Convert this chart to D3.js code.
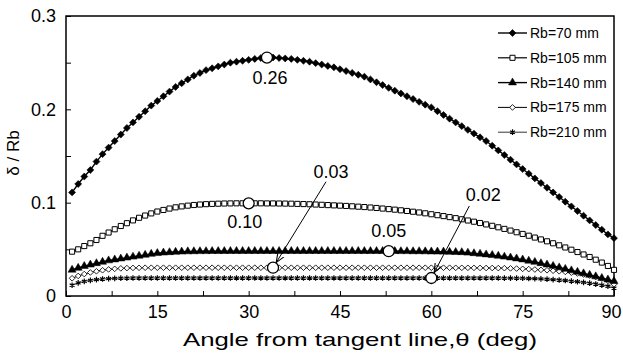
<!DOCTYPE html>
<html>
<head>
<meta charset="utf-8">
<script src="https://cdn.jsdelivr.net/npm/d3@7"></script>
<style>
  body { margin: 0; background: #fff; }
  text { font-family: "Liberation Sans", Arial, sans-serif; fill: #000; }
</style>
</head>
<body>
<div id="chart"></div>
<script>
// angle from tangent line (deg)
const theta = [1,2,3,4,5,6,7,8,9,10,11,12,13,14,15,16,17,18,19,20,21,22,23,24,25,26,27,28,29,30,
  31,32,33,34,35,36,37,38,39,40,41,42,43,44,45,46,47,48,49,50,51,52,53,54,55,56,57,58,59,60,
  61,62,63,64,65,66,67,68,69,70,71,72,73,74,75,76,77,78,79,80,81,82,83,84,85,86,87,88,89,90];

const rb70 = [0.111,0.120,0.128,0.135,0.144,0.152,0.159,0.166,0.173,0.180,
  0.186,0.192,0.198,0.204,0.209,0.214,0.219,0.224,0.228,0.232,
  0.236,0.239,0.242,0.244,0.246,0.248,0.250,0.251,0.252,0.253,
  0.254,0.255,0.2555,0.2555,0.255,0.2545,0.254,0.253,0.252,0.251,
  0.2495,0.248,0.2465,0.245,0.243,0.241,0.239,0.237,0.235,0.232,
  0.229,0.226,0.223,0.220,0.217,0.214,0.211,0.208,0.205,0.202,
  0.198,0.194,0.190,0.186,0.182,0.178,0.174,0.170,0.166,0.161,
  0.156,0.151,0.146,0.141,0.136,0.131,0.126,0.121,0.116,0.111,
  0.106,0.101,0.096,0.091,0.086,0.081,0.076,0.071,0.066,0.062];

const rb105 = [0.0475,0.0500,0.0535,0.0565,0.0600,0.0645,0.0680,0.0715,0.0750,0.0780,
  0.0810,0.0838,0.0862,0.0885,0.0905,0.0922,0.0937,0.0950,0.0960,0.0968,
  0.0975,0.0980,0.0984,0.0987,0.0989,0.0991,0.0992,0.0993,0.0993,0.0993,
  0.0993,0.0993,0.0992,0.0992,0.0991,0.0990,0.0989,0.0987,0.0985,0.0983,
  0.0980,0.0977,0.0974,0.0971,0.0968,0.0965,0.0961,0.0957,0.0953,0.0948,
  0.0943,0.0937,0.0931,0.0925,0.0918,0.0911,0.0903,0.0895,0.0886,0.0876,
  0.0866,0.0856,0.0845,0.0834,0.0822,0.0809,0.0796,0.0782,0.0767,0.0752,
  0.0736,0.0719,0.0701,0.0683,0.0665,0.0646,0.0626,0.0606,0.0586,0.0565,
  0.0543,0.0520,0.0496,0.0471,0.0445,0.0418,0.0389,0.0358,0.0322,0.0280];

const rb140 = [0.0280,0.0300,0.0320,0.0335,0.0350,0.0365,0.0380,0.0390,0.0400,0.0410,
  0.0420,0.0430,0.0440,0.0450,0.0458,0.0464,0.0468,0.0472,0.0475,0.0477,
  0.0478,0.0479,0.0479,0.0480,0.0480,0.0480,0.0481,0.0481,0.0481,0.0481,
  0.0481,0.0481,0.0481,0.0481,0.0481,0.0481,0.0481,0.0481,0.0481,0.0481,
  0.0481,0.0481,0.0481,0.0481,0.0481,0.0481,0.0481,0.0481,0.0480,0.0480,
  0.0480,0.0480,0.0480,0.0480,0.0479,0.0479,0.0478,0.0478,0.0477,0.0476,
  0.0475,0.0474,0.0472,0.0470,0.0468,0.0463,0.0457,0.0451,0.0444,0.0437,
  0.0429,0.0420,0.0411,0.0401,0.0390,0.0377,0.0364,0.0350,0.0336,0.0321,
  0.0305,0.0289,0.0273,0.0257,0.0241,0.0225,0.0209,0.0192,0.0175,0.0158];

const rb175 = [0.0190,0.0215,0.0235,0.0252,0.0265,0.0276,0.0285,0.0291,0.0296,0.0299,
  0.0301,0.0302,0.0303,0.0303,0.0303,0.0303,0.0303,0.0303,0.0303,0.0303,
  0.0303,0.0303,0.0303,0.0303,0.0303,0.0303,0.0303,0.0303,0.0303,0.0303,
  0.0303,0.0303,0.0303,0.0303,0.0303,0.0303,0.0303,0.0303,0.0303,0.0303,
  0.0303,0.0303,0.0303,0.0303,0.0303,0.0303,0.0303,0.0303,0.0303,0.0303,
  0.0303,0.0303,0.0303,0.0303,0.0303,0.0303,0.0303,0.0303,0.0303,0.0303,
  0.0303,0.0303,0.0303,0.0302,0.0302,0.0302,0.0301,0.0301,0.0300,0.0300,
  0.0299,0.0298,0.0296,0.0294,0.0291,0.0288,0.0284,0.0280,0.0276,0.0271,
  0.0265,0.0258,0.0250,0.0241,0.0230,0.0218,0.0203,0.0186,0.0163,0.0125];

const rb210 = [0.0115,0.0140,0.0157,0.0168,0.0176,0.0182,0.0186,0.0189,0.0191,0.0192,
  0.0193,0.0193,0.0193,0.0193,0.0193,0.0193,0.0193,0.0193,0.0193,0.0193,
  0.0193,0.0193,0.0193,0.0193,0.0193,0.0193,0.0193,0.0193,0.0193,0.0193,
  0.0193,0.0193,0.0193,0.0193,0.0193,0.0193,0.0193,0.0193,0.0193,0.0193,
  0.0193,0.0193,0.0193,0.0193,0.0193,0.0193,0.0193,0.0193,0.0193,0.0193,
  0.0193,0.0193,0.0193,0.0193,0.0193,0.0193,0.0193,0.0193,0.0193,0.0193,
  0.0193,0.0193,0.0193,0.0193,0.0193,0.0193,0.0193,0.0193,0.0193,0.0193,
  0.0193,0.0192,0.0192,0.0191,0.0190,0.0188,0.0186,0.0183,0.0180,0.0176,
  0.0171,0.0166,0.0160,0.0153,0.0146,0.0138,0.0128,0.0117,0.0104,0.0085];

const seriesNames = ['Rb=70 mm', 'Rb=105 mm', 'Rb=140 mm', 'Rb=175 mm', 'Rb=210 mm'];
const seriesValues = [rb70, rb105, rb140, rb175, rb210];

const xTicks = [0, 15, 30, 45, 60, 75, 90];
const xMinorTicks = [7.5, 22.5, 37.5, 52.5, 67.5, 82.5];
const yTicks = [0, 0.1, 0.2, 0.3];
const yMinorTicks = [0.05, 0.15, 0.25];

// highlighted points: angle, series index, label
const annoTheta = [33, 30, 53, 34, 60];
const annoSeries = [0, 1, 2, 3, 4];
const annoText = ['0.26', '0.10', '0.05', '0.03', '0.02'];

const width = 623, height = 356;
const margin = {top: 16, right: 9, bottom: 60, left: 66};
const w = width - margin.left - margin.right;
const h = height - margin.top - margin.bottom;

const svg = d3.select('#chart').append('svg')
  .attr('width', width)
  .attr('height', height);

const defs = svg.append('defs');
defs.append('marker')
  .attr('id', 'arrow')
  .attr('viewBox', '0 0 10 10')
  .attr('refX', 10).attr('refY', 5)
  .attr('markerWidth', 9).attr('markerHeight', 9)
  .attr('markerUnits', 'userSpaceOnUse')
  .attr('orient', 'auto')
  .append('path')
    .attr('d', 'M0,1 L10,5 L0,9')
    .attr('fill', 'none')
    .attr('stroke', '#000')
    .attr('stroke-width', 1.2);

const g = svg.append('g')
  .attr('transform', 'translate(' + margin.left + ',' + margin.top + ')');

const x = d3.scaleLinear().domain([0, 90]).range([0, w]);
const y = d3.scaleLinear().domain([0, 0.3]).range([h, 0]);

// axes, ticks pointing inward
function styleAxis(sel)
{
  sel.select('.domain').remove();
  sel.selectAll('.tick line').attr('stroke', '#000').attr('stroke-width', 1);
  sel.selectAll('.tick text')
    .style('font-family', '"Liberation Sans", Arial, sans-serif')
    .style('font-size', '18px')
    .attr('fill', '#000');
}

const xAxis = g.append('g')
  .attr('transform', 'translate(0,' + h + ')')
  .call(d3.axisBottom(x).tickValues(xTicks).tickSizeInner(-5).tickSizeOuter(0).tickPadding(9))
  .call(styleAxis);
// last label sits against the page edge
xAxis.selectAll('.tick text').filter(d => d === 90).attr('dx', -3);

g.append('g')
  .attr('transform', 'translate(0,' + h + ')')
  .call(d3.axisBottom(x).tickValues(xMinorTicks).tickSizeInner(-5).tickSizeOuter(0).tickFormat(''))
  .call(styleAxis);

g.append('g')
  .call(d3.axisLeft(y).tickValues(yTicks).tickSizeInner(-5).tickSizeOuter(0).tickPadding(10)
    .tickFormat(d => d === 0 ? '0' : d.toFixed(1)))
  .call(styleAxis);

g.append('g')
  .call(d3.axisLeft(y).tickValues(yMinorTicks).tickSizeInner(-5).tickSizeOuter(0).tickFormat(''))
  .call(styleAxis);

g.append('rect')
  .attr('width', w).attr('height', h)
  .attr('fill', 'none')
  .attr('stroke', '#000')
  .attr('stroke-width', 1.5);

// axis titles
svg.append('text')
  .attr('x', 360).attr('y', 346)
  .attr('text-anchor', 'middle')
  .attr('textLength', 354)
  .attr('lengthAdjust', 'spacingAndGlyphs')
  .style('font-size', '19px')
  .text('Angle from tangent line,θ (deg)');

svg.append('text')
  .attr('transform', 'translate(18.5,153) rotate(-90)')
  .attr('text-anchor', 'middle')
  .style('font-size', '17px')
  .text('δ / Rb');

// marker shapes
const asterisk = {
  draw(context, size)
  {
    const r = Math.sqrt(size) / 2;
    for (const a of [90, 30, 150]) {
      const dx = r * Math.cos(a * Math.PI / 180), dy = r * Math.sin(a * Math.PI / 180);
      context.moveTo(-dx, -dy);
      context.lineTo(dx, dy);
    }
  }
};

const styles = [
  {type: d3.symbolSquare, size: 24, rot: 45, fill: '#000', stroke: '#000', sw: 0.6, lw: 1.4},
  {type: d3.symbolSquare, size: 26, rot: 0, fill: '#fff', stroke: '#000', sw: 1, lw: 1.2},
  {type: d3.symbolTriangle, size: 28, rot: 0, fill: '#000', stroke: '#000', sw: 0.5, lw: 1.4},
  {type: d3.symbolSquare, size: 16, rot: 45, fill: '#fff', stroke: '#000', sw: 0.8, lw: 1},
  {type: asterisk, size: 32, rot: 0, fill: 'none', stroke: '#000', sw: 1.2, lw: 0.8}
];

const line = d3.line()
  .x((d, i) => x(theta[i]))
  .y(d => y(d));

// draw from the lowest series up so the upper ones sit on top
for (let s = seriesValues.length - 1; s >= 0; s--) {
  const st = styles[s];
  const vals = seriesValues[s];
  g.append('path')
    .datum(vals)
    .attr('d', line)
    .attr('fill', 'none')
    .attr('stroke', '#000')
    .attr('stroke-width', st.lw);

  g.append('g').selectAll('path')
    .data(vals)
    .join('path')
      .attr('transform', (d, i) => 'translate(' + x(theta[i]) + ',' + y(d) + ') rotate(' + st.rot + ')')
      .attr('d', d3.symbol().type(st.type).size(st.size))
      .attr('fill', st.fill)
      .attr('stroke', st.stroke)
      .attr('stroke-width', st.sw);
}

// annotations
const labelOffset = [[3, 26], [-4, 25], [0, -14], [58, -90], [52, -77]];
const arrowFrom = [null, null, null, [53, -86], [38, -72]];

annoTheta.forEach((t, k) => {
  const i = theta.indexOf(t);
  const cx = x(t), cy = y(seriesValues[annoSeries[k]][i]);
  if (arrowFrom[k]) {
    const a = arrowFrom[k];
    const len = Math.hypot(a[0], a[1]);
    g.append('line')
      .attr('x1', cx + a[0]).attr('y1', cy + a[1])
      .attr('x2', cx + a[0] * 6 / len).attr('y2', cy + a[1] * 6 / len)
      .attr('stroke', '#000')
      .attr('stroke-width', 1)
      .attr('marker-end', 'url(#arrow)');
  }
  g.append('circle')
    .attr('cx', cx).attr('cy', cy).attr('r', 5.5)
    .attr('fill', '#fff')
    .attr('stroke', '#000')
    .attr('stroke-width', 1.3);
  g.append('text')
    .attr('x', cx + labelOffset[k][0])
    .attr('y', cy + labelOffset[k][1])
    .attr('text-anchor', 'middle')
    .style('font-size', '18px')
    .text(annoText[k]);
});

// legend
const legend = svg.append('g').attr('transform', 'translate(498,33)');
seriesNames.forEach((name, s) => {
  const st = styles[s];
  const row = legend.append('g').attr('transform', 'translate(0,' + (s * 24.8) + ')');
  row.append('line')
    .attr('x1', 0).attr('x2', 29)
    .attr('stroke', '#000')
    .attr('stroke-width', st.lw);
  row.append('path')
    .attr('transform', 'translate(14.5,0) rotate(' + st.rot + ')')
    .attr('d', d3.symbol().type(st.type).size(st.size))
    .attr('fill', st.fill)
    .attr('stroke', st.stroke)
    .attr('stroke-width', st.sw);
  row.append('text')
    .attr('x', 32).attr('dy', '0.35em')
    .style('font-size', '14px')
    .text(name);
});
</script>
</body>
</html>
